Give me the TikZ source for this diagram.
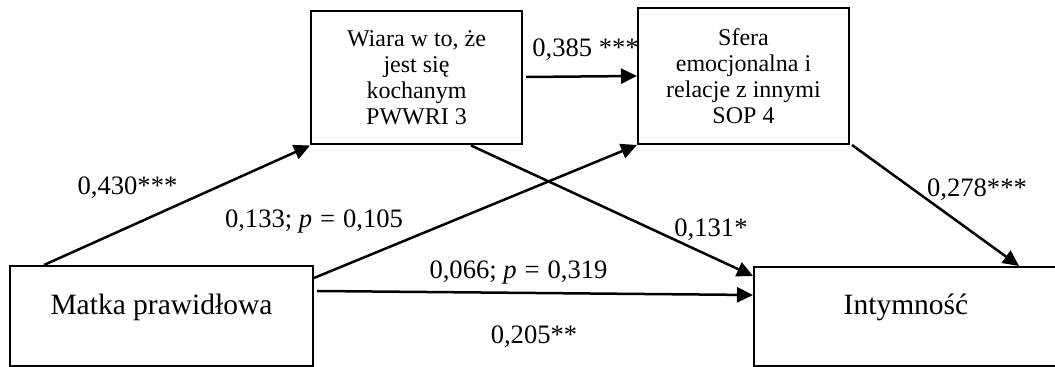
\documentclass[tikz,border=0pt]{standalone}
\usepackage{fontspec}
\setmainfont{Liberation Serif}
\usetikzlibrary{arrows.meta,calc}
\newcommand{\eqsign}{\hspace{0.3em}=\hspace{0.3em}}
\begin{document}
\begin{tikzpicture}[x=0.5pt,y=-0.5pt,
  box/.style={draw, line width=1pt, inner sep=0pt, align=center},
  varbox/.style={box, minimum width=105.5pt, font=\fontsize{12}{13}\selectfont},
  mainlabel/.style={font=\fontsize{14.75}{16}\selectfont, anchor=base, inner sep=0pt},
  coef/.style={font=\fontsize{13.3}{15}\selectfont, anchor=base, inner sep=0pt},
  link/.style={line width=1.25pt, -{Triangle[length=8pt,width=7.5pt]}}
]
\useasboundingbox (0,0) rectangle (1055,367);

% outer variables
\node[box, minimum width=151.5pt, minimum height=50pt] (matka) at (161.5,316) {};
\node[mainlabel] (matkaText) at (161.5,315) {Matka prawidłowa};
\node[box, minimum width=152pt, minimum height=49.5pt] (intym) at (906,316.5) {};
\node[mainlabel] (intymText) at (906,315) {Intymność};

% mediators
\node[varbox, minimum height=66.5pt] (wiara) at (416.5,78) {Wiara w to, że\\jest się\\kochanym\\PWWRI 3};
\node[varbox, minimum height=68pt] (sfera) at (743.5,76) {Sfera\\emocjonalna i\\relacje z innymi\\SOP 4};

% paths
\draw[link] ($(matka.north west)+(35,0)$) -- (wiara.south west);
\draw[link] ($(wiara.east)+(3,-1)$) -- (sfera.west);
\draw[link] ($(matka.north east)+(0,13)$) -- (sfera.south west);
\draw[link] ($(wiara.south west)+(161,0)$) -- ($(intym.north west)+(0,10)$);
\draw[link] ($(matka.north east)+(3,26)$) -- ($(intym.north west)+(0,29)$);
\draw[link] ($(sfera.south east)+(2,0)$) -- ($(intym.north west)+(266,0)$);

% coefficients
\node[coef] (c1) at (127.5,195) {0,430***};
\node[coef] (c2) at (585.5,57) {0,385 ***};
\node[coef] (c3) at (314,228) {0,133; \textit{p}\eqsign0,105};
\node[coef] (c4) at (518.5,279) {0,066; \textit{p}\eqsign0,319};
\node[coef] (c5) at (711,237) {0,131*};
\node[coef] (c6) at (977,197) {0,278***};
\node[coef] (c7) at (534,344) {0,205**};
\end{tikzpicture}
\end{document}
